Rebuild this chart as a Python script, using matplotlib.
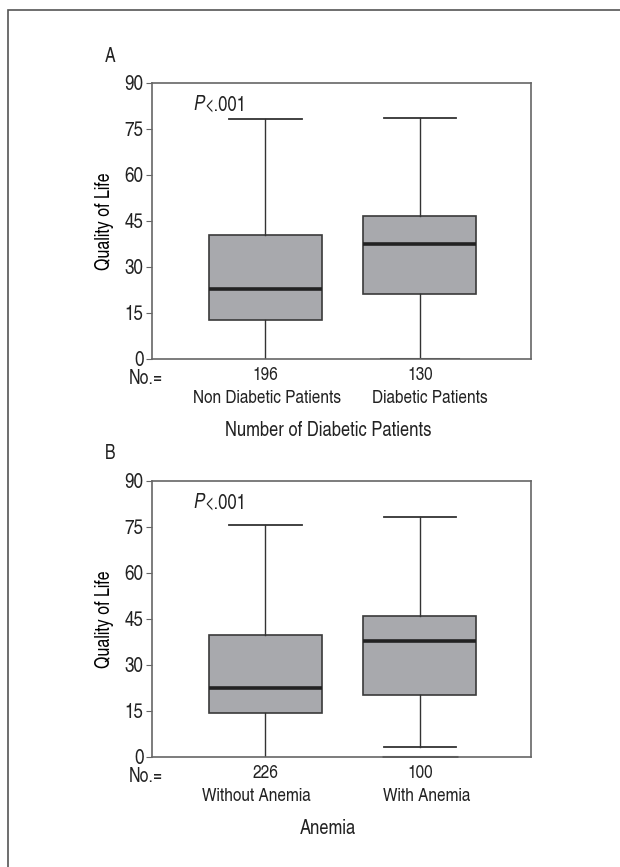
import numpy as np
import matplotlib
matplotlib.use("Agg")
import matplotlib.pyplot as plt
from matplotlib.patches import Rectangle

plt.rcParams['font.family'] = ['TeX Gyre Heros Cn', 'DejaVu Sans']
plt.rcParams['font.size'] = 14
plt.rcParams['text.color'] = '#222222'

# panel A: diabetes
a_counts = ['196', '130']
a_groups = ['Non Diabetic Patients', 'Diabetic Patients']
a_whislo = [0, 0]
a_q1 = [12.7, 21.3]
a_med = [22.8, 37.6]
a_q3 = [40.5, 46.7]
a_whishi = [78.4, 78.5]
a_fliers = [[], []]

# panel B: anemia
b_counts = ['226', '100']
b_groups = ['Without Anemia', 'With Anemia']
b_whislo = [0, 3.4]
b_q1 = [14.5, 20.3]
b_med = [22.4, 37.7]
b_q3 = [39.7, 45.9]
b_whishi = [75.6, 78.3]
b_fliers = [[], [0]]

yticks = [0, 15, 30, 45, 60, 75, 90]

fig = plt.figure(figsize=(6.2, 8.67), dpi=100)
W, H = 620, 867

# outer frame of the figure
fig.patches.append(Rectangle((8 / W, -0.1), 1.2, 1 - 10 / H + 0.1, transform=fig.transFigure,
                             fill=False, edgecolor='#555555', linewidth=1.2))

def panel(top, letter, counts, groups, group_x, whislo, q1, med, q3, whishi, fliers, title):
    bottom = top + 276
    ax = fig.add_axes([152 / W, 1 - bottom / H, 379 / W, 276 / H])
    stats = []
    for i in range(2):
        stats.append(dict(whislo=whislo[i], q1=q1[i], med=med[i], q3=q3[i],
                          whishi=whishi[i], fliers=fliers[i]))
    res = ax.bxp(stats, positions=[1, 2], widths=0.73, capwidths=0.47,
                 patch_artist=True, showfliers=True,
                 boxprops=dict(facecolor='#a8a9ad', edgecolor='#3a3a3a', linewidth=1.2),
                 medianprops=dict(color='#222222', linewidth=2.6),
                 whiskerprops=dict(color='#333333', linewidth=1.0),
                 capprops=dict(color='#333333', linewidth=1.3),
                 flierprops=dict(marker='_', markersize=55, markeredgewidth=2.2,
                                 markeredgecolor='#333333'))
    # lower cap of first group sits on the axis and is not shown
    res['caps'][0].set_visible(False)
    if whislo[1] == 0:
        res['caps'][2].set_linewidth(2.2)
        res['caps'][2].set_xdata([2 - 0.25, 2 + 0.25])
    ax.set_xlim(0.265, 2.72)
    ax.set_ylim(0, 90)
    ax.set_yticks(yticks)
    ax.set_xticks([1, 2])
    ax.set_xticklabels(counts)
    for sp in ax.spines.values():
        sp.set_color('#666666')
        sp.set_linewidth(1.2)
    ax.tick_params(axis='y', length=4, color='#666666', pad=2, labelsize=15, labelcolor='#222222')
    ax.tick_params(axis='x', length=0, pad=6, labelsize=13.5, labelcolor='#222222')
    ax.set_ylabel('Quality of Life', labelpad=8, fontsize=14)
    fig.text(193 / W, 1 - (top + 22) / H, 'P', style='italic', va='center', ha='left', fontsize=14.5)
    fig.text(204 / W, 1 - (top + 22) / H, '<.001', va='center', ha='left', fontsize=14.5)
    fig.text(146 / W, 1 - (bottom + 20) / H, 'No.=', ha='center', va='center', fontsize=14)
    for g, gx in zip(groups, group_x):
        fig.text(gx / W, 1 - (bottom + 39.5) / H, g, ha='center', va='center', fontsize=13.5)
    fig.text(110 / W, 1 - (top - 27) / H, letter, ha='center', va='center', fontsize=14)
    fig.text(328 / W, 1 - (bottom + 71) / H, title, ha='center', va='center', fontsize=14.5)
    return ax

panel(83, 'A', a_counts, a_groups, [267.5, 430], a_whislo, a_q1, a_med, a_q3, a_whishi,
      a_fliers, 'Number of Diabetic Patients')
panel(481, 'B', b_counts, b_groups, [256, 427], b_whislo, b_q1, b_med, b_q3, b_whishi,
      b_fliers, 'Anemia')

fig.savefig('out.png', dpi=100)
